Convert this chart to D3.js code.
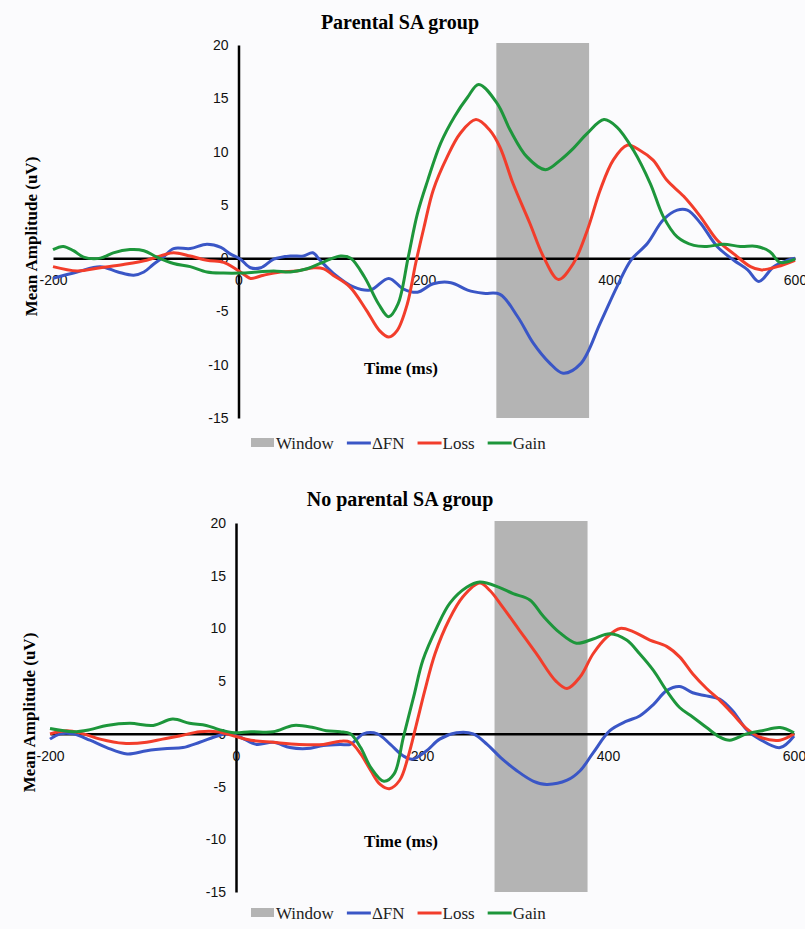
<!DOCTYPE html>
<html>
<head>
<meta charset="utf-8">
<script src="https://cdn.jsdelivr.net/npm/d3@7"></script>
<style>
	body { margin: 0; background: #fbfbfd; }
	svg { display: block; font-family: "Liberation Serif", "Times New Roman", serif; }
</style>
</head>
<body>
<svg id="chart" width="805" height="929"></svg>
<script>
// Titles, ticks, legend
const titles = ['Parental SA group', 'No parental SA group'];
const xTicks = [-200, 0, 200, 400, 600];
const yTicks = [-15, -10, -5, 0, 5, 10, 15, 20];
const seriesNames = ['ΔFN', 'Loss', 'Gain'];
const windowMs = [278, 378];
const windowAmp = [-15, 20];

// [time (ms), amplitude (uV)]
const parentalFN = [
	[-200, -1.9], [-174, -1.3], [-149, -0.8], [-130, -1.3], [-113, -1.6], [-102, -1.3], [-92, -0.6],
	[-81, 0.1], [-70, 0.9], [-52, 0.9], [-34, 1.3], [-19, 1.0], [-9, 0.4], [2, -0.1], [13, -0.9],
	[24, -0.9], [38, -0.1], [56, 0.2], [70, 0.2], [80, 0.5], [88, -0.2], [102, -1.4], [124, -2.7],
	[142, -3.0], [162, -1.9], [178, -2.9], [193, -3.2], [210, -2.4], [229, -2.3], [247, -3.0],
	[264, -3.3], [282, -3.4], [301, -5.5], [318, -8.0], [335, -9.8], [350, -10.8], [369, -9.9],
	[390, -6.1], [408, -2.7], [423, -0.2], [441, 1.4], [458, 3.6], [473, 4.5], [484, 4.5],
	[498, 3.3], [516, 1.1], [534, -0.2], [549, -1.1], [561, -2.2], [577, -0.8], [592, -0.2], [600, 0],
];
const parentalLoss = [
	[-200, -0.8], [-174, -1.2], [-149, -0.9], [-124, -0.6], [-99, -0.2], [-81, 0.3], [-70, 0.5],
	[-52, 0.2], [-34, -0.2], [-16, -0.4], [-5, -0.9], [7, -1.6], [13, -1.9], [27, -1.6], [45, -1.3],
	[63, -1.2], [81, -0.9], [92, -1.0], [102, -1.6], [120, -2.7], [138, -4.9], [152, -6.8],
	[162, -7.4], [171, -6.8], [182, -4.3], [191, -0.5], [200, 2.9], [210, 6.4], [225, 9.5],
	[239, 11.7], [256, 13.0], [271, 12.0], [282, 10.4], [296, 7.0], [314, 3.3], [329, 0.1],
	[345, -2.0], [361, -0.5], [376, 2.6], [390, 6.4], [404, 9.2], [419, 10.6], [433, 10.1],
	[447, 9.2], [462, 7.3], [480, 5.8], [498, 3.9], [516, 1.7], [534, 0.4], [552, -0.8],
	[563, -1.1], [581, -0.8], [600, -0.2],
];
const parentalGain = [
	[-200, 0.8], [-189, 1.1], [-178, 0.7], [-167, 0.1], [-149, 0], [-135, 0.5], [-117, 0.8],
	[-102, 0.7], [-88, 0.1], [-70, -0.5], [-52, -0.8], [-34, -1.3], [-16, -1.4], [2, -1.4],
	[20, -1.3], [38, -1.2], [56, -1.3], [74, -1.0], [88, -0.5], [99, -0.1], [110, 0.2], [121, 0],
	[136, -1.8], [151, -4.3], [162, -5.5], [172, -4.3], [183, 0.1], [193, 4.2], [204, 7.3],
	[218, 10.8], [233, 13.3], [247, 15.1], [259, 16.3], [279, 14.5], [293, 12.0], [311, 9.5],
	[331, 8.3], [347, 9.2], [361, 10.3], [376, 11.7], [394, 13.0], [408, 12.3], [426, 10.1],
	[444, 7.0], [458, 3.9], [473, 2.0], [491, 1.2], [505, 1.1], [523, 1.3], [541, 1.1],
	[559, 1.1], [573, 0.6], [584, -0.4], [600, -0.1],
];
const noParentalFN = [
	[-200, -0.5], [-189, 0], [-175, 0], [-157, -0.6], [-139, -1.3], [-117, -1.9], [-96, -1.6],
	[-74, -1.4], [-57, -1.3], [-39, -0.8], [-20, -0.2], [-10, 0], [4, -0.3], [22, -1.0], [40, -0.8],
	[58, -1.3], [76, -1.4], [94, -1.1], [112, -1.0], [123, -1.0], [137, 0], [152, 0], [166, -1.0],
	[180, -2.1], [190, -2.4], [205, -1.6], [219, -0.5], [237, 0.1], [255, 0], [270, -1.0],
	[284, -2.2], [302, -3.5], [320, -4.5], [334, -4.8], [356, -4.4], [370, -3.5], [384, -1.8],
	[402, 0.3], [420, 1.2], [434, 1.7], [449, 2.8], [463, 4.1], [477, 4.5], [491, 3.9],
	[506, 3.6], [520, 3.3], [534, 2.2], [549, 0.4], [563, -0.5], [585, -1.3], [600, -0.2],
];
const noParentalLoss = [
	[-200, 0], [-182, 0.3], [-164, 0], [-146, -0.5], [-121, -0.9], [-96, -0.8], [-79, -0.5],
	[-61, -0.2], [-39, 0.2], [-20, 0.2], [-2, -0.2], [16, -0.6], [40, -0.8], [68, -1.0],
	[94, -1.0], [112, -0.7], [123, -0.8], [134, -1.9], [145, -3.5], [155, -4.8], [165, -5.2],
	[176, -4.4], [185, -2.2], [194, 0.9], [203, 4.1], [214, 7.6], [229, 10.8], [244, 13.0],
	[262, 14.3], [273, 13.6], [287, 12.0], [305, 9.8], [323, 7.6], [344, 5.0], [356, 4.3],
	[370, 5.4], [384, 7.6], [399, 9.2], [413, 10.0], [427, 9.7], [445, 8.9], [463, 8.3],
	[477, 7.3], [491, 5.7], [506, 4.3], [520, 3.2], [534, 1.9], [549, 0.5], [563, -0.3],
	[585, -0.6], [600, 0],
];
const noParentalGain = [
	[-200, 0.5], [-175, 0.2], [-157, 0.4], [-139, 0.8], [-114, 1.0], [-89, 0.8], [-68, 1.4],
	[-50, 1.0], [-32, 0.8], [-18, 0.4], [-2, 0.1], [16, 0.2], [40, 0.2], [62, 0.8], [83, 0.6],
	[97, 0.3], [112, 0.2], [123, 0], [134, -1.3], [145, -3.2], [159, -4.5], [170, -3.8],
	[180, -0.3], [191, 3.5], [201, 7.0], [216, 10.1], [230, 12.4], [248, 13.9], [262, 14.4],
	[283, 13.9], [298, 13.3], [316, 12.7], [330, 11.2], [348, 9.6], [366, 8.6], [384, 9.0],
	[402, 9.5], [420, 8.9], [434, 7.6], [449, 6.0], [463, 4.1], [477, 2.5], [491, 1.6],
	[506, 0.6], [520, -0.3], [531, -0.6], [549, 0], [566, 0.3], [585, 0.6], [600, 0.1],
];

const colors = ['#3a56c6', '#f23d2b', '#1d963b'];
const windowColor = '#b4b4b4';

// Panel placement in the 805x929 picture
const panels = [
	{ title: titles[0], series: [parentalFN, parentalLoss, parentalGain],
		left: 53, right: 795, top: 45, bottom: 418, titleY: 29, xTitleY: 374, yTitleX: 37, legendY: 443 },
	{ title: titles[1], series: [noParentalFN, noParentalLoss, noParentalGain],
		left: 50, right: 794, top: 523, bottom: 892, titleY: 506, xTitleY: 847, yTitleX: 35, legendY: 913 },
];

const svg = d3.select('#chart');
const plain = d => String(d); // hyphen minus, like the original figure

panels.forEach((p) => {
	const x = d3.scaleLinear().domain([-200, 600]).range([p.left, p.right]);
	const y = d3.scaleLinear().domain([-15, 20]).range([p.bottom, p.top]);
	const g = svg.append('g');

	// Title
	g.append('text')
		.attr('x', 400).attr('y', p.titleY)
		.attr('text-anchor', 'middle')
		.attr('font-size', 20).attr('font-weight', 'bold')
		.text(p.title);

	// Analysis window
	g.append('rect')
		.attr('x', x(windowMs[0]))
		.attr('y', y(windowAmp[1]) - 2)
		.attr('width', x(windowMs[1]) - x(windowMs[0]))
		.attr('height', y(windowAmp[0]) - y(windowAmp[1]) + 2)
		.attr('fill', windowColor);

	// Y axis through t = 0
	const yAxis = g.append('g')
		.attr('transform', `translate(${x(0)},0)`)
		.call(d3.axisLeft(y).tickValues(yTicks).tickFormat(plain)
			.tickSize(0).tickSizeOuter(0).tickPadding(10));
	yAxis.select('.domain').attr('stroke', '#000').attr('stroke-width', 2.5);
	yAxis.selectAll('text').attr('font-size', 14).attr('font-family', null).attr('fill', '#111');

	// X axis along 0 uV
	const xAxis = g.append('g')
		.attr('transform', `translate(0,${y(0)})`)
		.call(d3.axisBottom(x).tickValues(xTicks).tickFormat(plain)
			.tickSize(0).tickSizeOuter(0).tickPadding(17));
	xAxis.select('.domain').attr('stroke', '#000').attr('stroke-width', 2.5);
	xAxis.selectAll('text').attr('font-size', 14).attr('font-family', null).attr('fill', '#111');

	// Axis titles
	g.append('text')
		.attr('x', 401).attr('y', p.xTitleY)
		.attr('text-anchor', 'middle')
		.attr('font-size', 17).attr('font-weight', 'bold')
		.text('Time (ms)');
	g.append('text')
		.attr('transform', `translate(${p.yTitleX},${(p.top + p.bottom) / 2 + 5}) rotate(-90)`)
		.attr('text-anchor', 'middle')
		.attr('font-size', 17).attr('font-weight', 'bold')
		.text('Mean Amplitude (uV)');

	// Waveforms
	const line = d3.line()
		.x(d => x(d[0]))
		.y(d => y(d[1]))
		.curve(d3.curveCatmullRom.alpha(0.5));
	g.append('g').selectAll('path')
		.data(p.series)
		.enter().append('path')
		.attr('d', line)
		.attr('fill', 'none')
		.attr('stroke', (d, i) => colors[i])
		.attr('stroke-width', 3)
		.attr('stroke-linejoin', 'round');

	// Legend
	const legend = g.append('g').attr('font-size', 17);
	let lx = 251;
	const items = [{ name: 'Window', color: windowColor, box: true }]
		.concat(seriesNames.map((name, i) => ({ name, color: colors[i] })));
	items.forEach((item) => {
		if (item.box) {
			legend.append('rect')
				.attr('x', lx).attr('y', p.legendY - 5)
				.attr('width', 23).attr('height', 9)
				.attr('fill', item.color);
		} else {
			legend.append('line')
				.attr('x1', lx).attr('x2', lx + 24)
				.attr('y1', p.legendY).attr('y2', p.legendY)
				.attr('stroke', item.color).attr('stroke-width', 3);
		}
		const t = legend.append('text')
			.attr('x', lx + 25).attr('y', p.legendY + 6)
			.attr('fill', '#222')
			.text(item.name);
		lx += 25 + t.node().getComputedTextLength() + 13;
	});
});
</script>
</body>
</html>
